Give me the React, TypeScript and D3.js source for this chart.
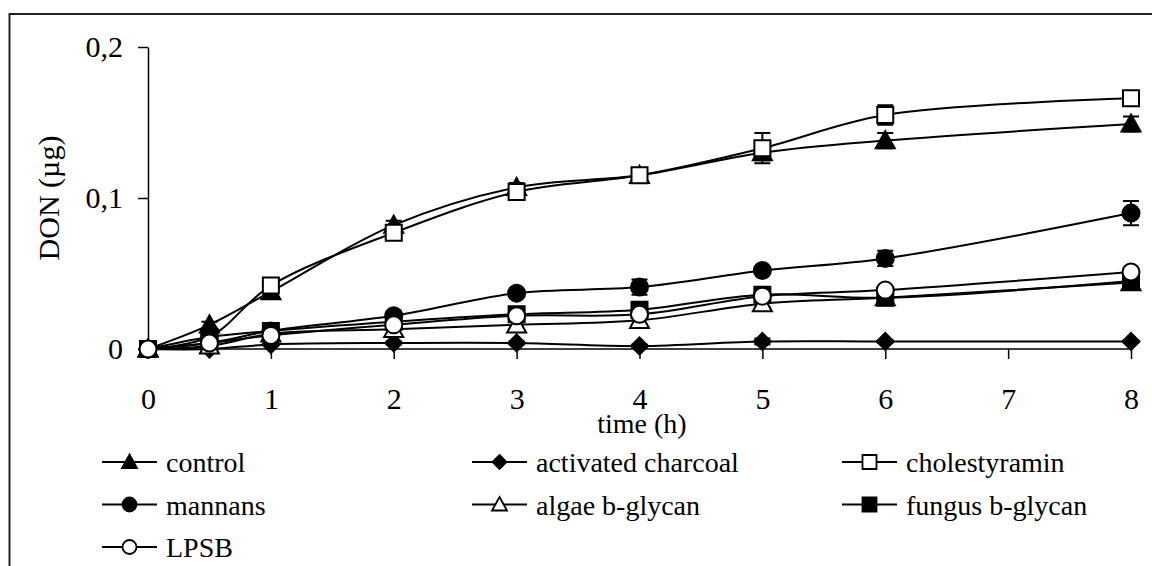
import React, { useEffect, useRef } from 'react';
import * as d3 from 'd3';

// sampling times (h)
const times = [0, 0.5, 1, 2, 3, 4, 5, 6, 8];

// DON (µg) per treatment
const control = [0, 0.016, 0.038, 0.082, 0.107, 0.115, 0.13, 0.138, 0.149];
const charcoal = [0, 0, 0.003, 0.004, 0.004, 0.002, 0.005, 0.005, 0.005];
const cholestyramin = [0, 0.008, 0.042, 0.077, 0.104, 0.115, 0.133, 0.155, 0.166];
const mannans = [0, 0.004, 0.012, 0.022, 0.037, 0.041, 0.052, 0.06, 0.09];
const algae = [0, 0.002, 0.01, 0.013, 0.016, 0.019, 0.03, 0.034, 0.044];
const fungus = [0, 0.008, 0.012, 0.018, 0.023, 0.026, 0.036, 0.034, 0.045];
const lpsb = [0, 0.004, 0.009, 0.016, 0.022, 0.023, 0.035, 0.039, 0.051];

// standard errors
const controlErr = [0, 0.002, 0.002, 0.003, 0.003, 0.002, 0.005, 0.005, 0.005];
const charcoalErr = [0, 0.001, 0.001, 0.001, 0.001, 0.001, 0.002, 0.001, 0.001];
const cholestyraminErr = [0, 0.002, 0.003, 0.002, 0.002, 0.002, 0.01, 0.0065, 0.002];
const mannansErr = [0, 0.001, 0.002, 0.003, 0.002, 0.005, 0.002, 0.005, 0.008];
const algaeErr = [0, 0.001, 0.001, 0.003, 0.003, 0.003, 0.002, 0.002, 0.002];
const fungusErr = [0, 0.002, 0.003, 0.002, 0.004, 0.004, 0.003, 0.003, 0.002];
const lpsbErr = [0, 0.001, 0.002, 0.002, 0.002, 0.002, 0.002, 0.002, 0.002];

const xTicks = [0, 1, 2, 3, 4, 5, 6, 7, 8];
const yTicks = [0, 0.1, 0.2];

type Marker = 'triangle' | 'diamond' | 'square' | 'circle';

interface Series {
  name: string;
  values: number[];
  errors: number[];
  marker: Marker;
  filled: boolean;
}

const series: Series[] = [
  { name: 'control', values: control, errors: controlErr, marker: 'triangle', filled: true },
  { name: 'activated charcoal', values: charcoal, errors: charcoalErr, marker: 'diamond', filled: true },
  { name: 'cholestyramin', values: cholestyramin, errors: cholestyraminErr, marker: 'square', filled: false },
  { name: 'mannans', values: mannans, errors: mannansErr, marker: 'circle', filled: true },
  { name: 'algae b-glycan', values: algae, errors: algaeErr, marker: 'triangle', filled: false },
  { name: 'fungus b-glycan', values: fungus, errors: fungusErr, marker: 'square', filled: true },
  { name: 'LPSB', values: lpsb, errors: lpsbErr, marker: 'circle', filled: false },
];

const FONT = '"Liberation Serif", "Times New Roman", serif';

function markerPath(m: Marker, s: number): string {
  const h = s / 2;
  if (m === 'triangle') return `M0,${-h}L${h},${h * 0.8}L${-h},${h * 0.8}Z`;
  if (m === 'diamond') return `M0,${-h}L${h},0L0,${h}L${-h},0Z`;
  if (m === 'square') return `M${-h},${-h}H${h}V${h}H${-h}Z`;
  return d3.arc()({ innerRadius: 0, outerRadius: h, startAngle: 0, endAngle: Math.PI * 2 }) || '';
}

export default function App() {
  const svgRef = useRef<SVGSVGElement | null>(null);

  useEffect(() => {
    if (!svgRef.current) return;
    const svg = d3.select(svgRef.current);
    svg.selectAll('*').remove();

    const x = d3.scaleLinear().domain([0, 8]).range([148, 1131]);
    const y = d3.scaleLinear().domain([0, 0.2]).range([349, 47]);

    // outer frame
    svg.append('rect')
      .attr('x', 9.5).attr('y', 14)
      .attr('width', 1160).attr('height', 600)
      .attr('fill', 'none').attr('stroke', '#222').attr('stroke-width', 2);

    // axes
    const xAxis = svg.append('g')
      .attr('transform', `translate(0,${y(0)})`)
      .call(d3.axisBottom(x).tickValues(xTicks).tickSize(10).tickPadding(29).tickFormat(d3.format('d')));
    const yAxis = svg.append('g')
      .attr('transform', `translate(${x(0)},0)`)
      .call(d3.axisLeft(y).tickValues(yTicks).tickSize(10).tickSizeOuter(0).tickPadding(15)
        .tickFormat((d) => (d === 0 ? '0' : String(d).replace('.', ','))));

    [xAxis, yAxis].forEach((g) => {
      g.selectAll('.domain').attr('stroke', '#000').attr('stroke-width', 1.5);
      g.selectAll('.tick line').attr('stroke', '#000').attr('stroke-width', 1.5);
      g.selectAll('.tick text')
        .attr('fill', '#000')
        .style('font-family', FONT)
        .style('font-size', '30px');
    });
    xAxis.select('.domain').attr('d', `M${x(0)},0H${x(8)}`);
    yAxis.selectAll('.tick text').attr('dy', '0.33em');

    // axis titles
    svg.append('text')
      .attr('x', 642).attr('y', 433)
      .attr('text-anchor', 'middle')
      .style('font-family', FONT).style('font-size', '28px')
      .text('time (h)');
    svg.append('text')
      .attr('transform', 'translate(59,198) rotate(-90)')
      .attr('text-anchor', 'middle')
      .style('font-family', FONT).style('font-size', '30px')
      .text('DON (µg)');

    const line = d3.line<number>()
      .x((_, i) => x(times[i]))
      .y((d) => y(d))
      .curve(d3.curveCatmullRom.alpha(0.5));

    const plot = svg.append('g');

    series.forEach((s) => {
      plot.append('path')
        .datum(s.values)
        .attr('fill', 'none')
        .attr('stroke', '#000')
        .attr('stroke-width', 2)
        .attr('d', line);
    });

    series.forEach((s) => {
      const g = plot.append('g');
      s.values.forEach((v, i) => {
        const e = s.errors[i];
        if (e <= 0) return;
        const cx = x(times[i]);
        g.append('path')
          .attr('d', `M${cx},${y(v + e)}V${y(v - e)}M${cx - 8},${y(v + e)}H${cx + 8}M${cx - 8},${y(v - e)}H${cx + 8}`)
          .attr('stroke', '#000').attr('stroke-width', 2).attr('fill', 'none');
      });
      const size = s.marker === 'triangle' ? 19 : s.marker === 'diamond' ? 17 : s.marker === 'square' ? 16 : 17;
      g.selectAll('path.mk')
        .data(s.values)
        .enter()
        .append('path')
        .attr('class', 'mk')
        .attr('transform', (d, i) => `translate(${x(times[i])},${y(d)})`)
        .attr('d', markerPath(s.marker, size))
        .attr('fill', s.filled ? '#000' : '#fff')
        .attr('stroke', '#000')
        .attr('stroke-width', 2);
    });

    // legend, 3 columns
    const legend = svg.append('g');
    series.forEach((s, i) => {
      const col = i % 3;
      const row = Math.floor(i / 3);
      const lx = 102 + col * 370;
      const ly = 462 + row * 42.5;
      const g = legend.append('g').attr('transform', `translate(${lx},${ly})`);
      g.append('line')
        .attr('x1', 0).attr('x2', 55).attr('y1', 0).attr('y2', 0)
        .attr('stroke', '#000').attr('stroke-width', 2);
      const size = s.marker === 'triangle' ? 15 : 14;
      g.append('path')
        .attr('transform', 'translate(27.5,0)')
        .attr('d', markerPath(s.marker, size))
        .attr('fill', s.filled ? '#000' : '#fff')
        .attr('stroke', '#000')
        .attr('stroke-width', 1.8);
      g.append('text')
        .attr('x', 64).attr('y', 10)
        .style('font-family', FONT).style('font-size', '28px')
        .text(s.name);
    });
  }, []);

  return (
    <div style={{ position: 'fixed', left: 0, top: 0, width: 1152, height: 566, background: '#fff', overflow: 'hidden' }}>
      <svg ref={svgRef} width={1152} height={566} />
    </div>
  );
}
